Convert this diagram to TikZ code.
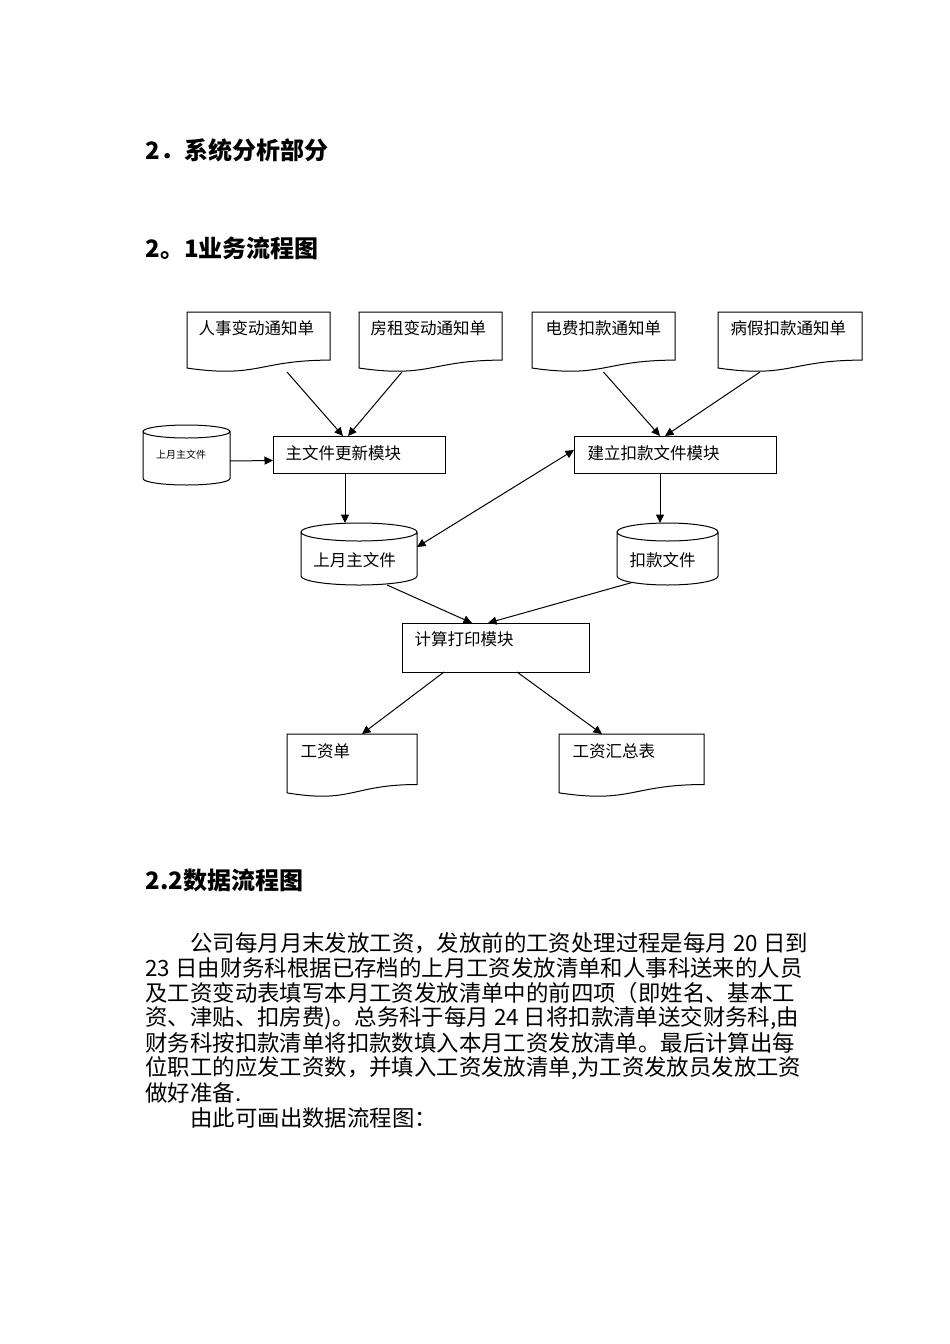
\documentclass[tikz,border=0pt]{standalone}
\usepackage{fontspec}
\setmainfont{Noto Sans CJK SC}
\usetikzlibrary{arrows.meta,calc}
\newcommand\docshape[1]{%
  \draw let \p1=(#1.north west), \p2=(#1.south east), \n1={\x2-\x1}, \n2={\y1-\y2} in
    (\x1,\y1) -- (\x2,\y1) -- (\x2,{\y1-0.802*\n2})
    .. controls ({\x1+0.5*\n1},{\y1-0.802*\n2}) and ({\x1+0.5*\n1},{\y1-1.107*\n2}) ..
    (\x1,{\y1-0.934*\n2}) -- cycle;}
\newcommand\cylshape[2]{%
  \draw let \p1=(#1.north west), \p2=(#1.south east), \n1={(\x2-\x1)/2} in
    ({(\x1+\x2)/2},{\y1-#2}) ellipse [x radius=\n1, y radius=#2]
    (\x1,{\y1-#2}) -- (\x1,{\y2+#2})
    arc [start angle=180, end angle=360, x radius=\n1, y radius=#2]
    -- (\x2,{\y1-#2});}
\begin{document}
\begin{tikzpicture}[x=1pt,y=-1pt,line width=1pt,
  frm/.style 2 args={rectangle,inner sep=0pt,outer sep=0pt,minimum width=#1pt,minimum height=#2pt},
  modbox/.style 2 args={frm={#1}{#2},draw},
  lbl/.style={inner sep=0pt,anchor=west,font=\fontsize{16.5}{18}\selectfont},
  clbl/.style={inner sep=0pt,font=\fontsize{16.5}{18}\selectfont},
  arr/.style={-{Triangle[length=8.5pt,width=8pt]}},
  darr/.style={{Triangle[length=8.5pt,width=8pt]}-{Triangle[length=8.5pt,width=8pt]}},
  head/.style={inner sep=0pt,anchor=west,font=\fontsize{24}{28}\selectfont\bfseries},
  body/.style={inner sep=0pt,anchor=west,font=\fontsize{22.4}{25}\selectfont}]
\fill[white] (0,0) rectangle (950,1344);
\useasboundingbox (0,0) rectangle (950,1344);

% headings
\node[head] (h1) at (145,150) {2．系统分析部分};
\node[head] (h2) at (145,248) {2。1业务流程图};
\node[head] (h3) at (145,880) {2.2数据流程图};

% documents
\node[frm={143}{60}] (d1) at (258.5,342) {};
\node[frm={143}{60}] (d2) at (430.5,342) {};
\node[frm={143}{60}] (d3) at (603.5,342) {};
\node[frm={144}{60}] (d4) at (790,342) {};
\node[frm={130}{63}] (dw) at (352,765.5) {};
\node[frm={145}{63}] (ds) at (631.5,765.5) {};
\docshape{d1}\docshape{d2}\docshape{d3}\docshape{d4}\docshape{dw}\docshape{ds}
\node[lbl] (t1) at ([shift={(11pt,-16pt)}]d1.north west) {人事变动通知单};
\node[lbl] (t2) at ([shift={(11pt,-16pt)}]d2.north west) {房租变动通知单};
\node[lbl] (t3) at ([shift={(13pt,-16pt)}]d3.north west) {电费扣款通知单};
\node[lbl] (t4) at ([shift={(12pt,-16pt)}]d4.north west) {病假扣款通知单};
\node[lbl] (tw) at ([shift={(13pt,-17pt)}]dw.north west) {工资单};
\node[lbl] (ts) at ([shift={(13pt,-17pt)}]ds.north west) {工资汇总表};

% modules
\node[modbox={172}{37}] (m1) at (359,454.5) {};
\node[modbox={202}{37}] (m2) at (675,454.5) {};
\node[modbox={187}{49}] (m3) at (495.5,647.5) {};
\node[lbl] (tm1) at ([shift={(12pt,1.5pt)}]m1.west) {主文件更新模块};
\node[lbl] (tm2) at ([shift={(13pt,1.5pt)}]m2.west) {建立扣款文件模块};
\node[lbl] (tm3) at ([shift={(12pt,-16pt)}]m3.north west) {计算打印模块};

% stores
\node[frm={87}{60}] (c0) at (186.5,455) {};
\node[frm={116}{62}] (c1) at (359,554) {};
\node[frm={101}{62}] (c2) at (667.5,554) {};
\cylshape{c0}{6.5pt}\cylshape{c1}{9pt}\cylshape{c2}{9pt}
\node[inner sep=0pt,font=\fontsize{10}{12}\selectfont] (tc0) at ([xshift=-5.5pt]c0.center) {上月主文件};
\node[clbl] (tc1) at ([shift={(-4.5pt,-6pt)}]c1.center) {上月主文件};
\node[clbl] (tc2) at ([shift={(-5pt,-6pt)}]c2.center) {扣款文件};

% connectors
\draw[arr] ([xshift=28.5pt]d1.south) -- ([xshift=-16pt]m1.north);
\draw[arr] ([xshift=-28.5pt]d2.south) -- ([xshift=-11pt]m1.north);
\draw[arr] (d3.south) -- ([xshift=-15pt]m2.north);
\draw[arr] ([xshift=-30pt]d4.south) -- ([xshift=-10pt]m2.north);
\draw[arr] ([yshift=-6pt]c0.east) -- ([yshift=-6pt]m1.west);
\draw[arr] ([xshift=-14pt]m1.south) -- ([xshift=-14pt]m1.south |- c1.north);
\draw[arr] ([xshift=-15pt]m2.south) -- ([xshift=-15pt]m2.south |- c2.north);
\draw[darr] ([yshift=4.5pt]m2.west) -- ([yshift=7pt]c1.east);
\draw[arr] ([xshift=28pt]c1.south) -- ([xshift=-23.5pt]m3.north);
\draw[arr] ([xshift=-35.5pt,yshift=2.5pt]c2.south) -- ([xshift=-7.5pt]m3.north);
\draw[arr] ([xshift=-51.5pt]m3.south) -- ([xshift=10pt]dw.north);
\draw[arr] ([xshift=21.5pt]m3.south) -- ([xshift=-29.5pt]ds.north);

% body text
\node[body] (b1) at (190,943) {公司每月月末发放工资，发放前的工资处理过程是每月 20 日到};
\node[body] (b2) at (145,968) {23 日由财务科根据已存档的上月工资发放清单和人事科送来的人员};
\node[body] (b3) at (145,993) {及工资变动表填写本月工资发放清单中的前四项（即姓名、基本工};
\node[body] (b4) at (145,1018) {资、津贴、扣房费)。总务科于每月 24 日将扣款清单送交财务科,由};
\node[body] (b5) at (145,1043) {财务科按扣款清单将扣款数填入本月工资发放清单。最后计算出每};
\node[body] (b6) at (145,1068) {位职工的应发工资数，并填入工资发放清单,为工资发放员发放工资};
\node[body] (b7) at (145,1093) {做好准备.};
\node[body] (b8) at (190,1118) {由此可画出数据流程图：};
\end{tikzpicture}
\end{document}
